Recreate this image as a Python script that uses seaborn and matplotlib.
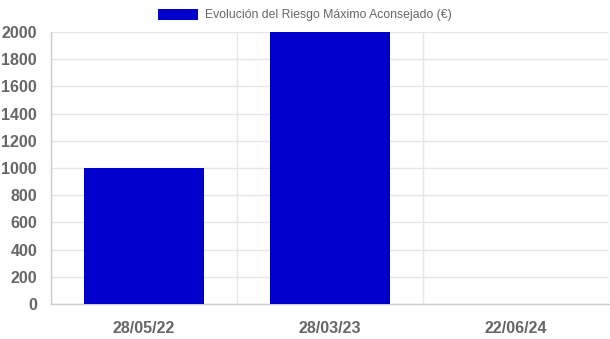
import matplotlib
matplotlib.use("Agg")
import matplotlib.pyplot as plt
import seaborn as sns
import pandas as pd
from matplotlib.patches import Patch

categories = ["28/05/22", "28/03/23", "22/06/24"]
values = [1000, 2000, 0]
series_name = "Evolución del Riesgo Máximo Aconsejado (€)"
y_ticks = list(range(0, 2001, 200))

sns.set_style("white")
plt.rcParams['font.family'] = ['Liberation Sans', 'DejaVu Sans']

df = pd.DataFrame({"fecha": categories, "valor": values})

fig = plt.figure(figsize=(6.1, 3.39), dpi=100)
W, H = 610, 339
ax = fig.add_axes([51 / W, (H - 304) / H, (609 - 51) / W, (304 - 32) / H])

bar_color = "#0000CD"
sns.barplot(data=df, x="fecha", y="valor", order=categories, color=bar_color,
            saturation=1, width=0.645, ax=ax, errorbar=None, zorder=3)
for p in ax.patches:
    p.set_linewidth(0)

grid_c = "#e6e6e6"
ax.set_xlim(-0.5, 2.5)
ax.set_ylim(0, 2000)
ax.set_yticks(y_ticks)
ax.set_yticklabels([str(v) for v in y_ticks])
ax.set_xticks(range(len(categories)))
ax.set_xticklabels(categories)
ax.set_xticks([-0.5, 0.5, 1.5, 2.5], minor=True)

ax.grid(False)
ax.yaxis.grid(True, color=grid_c, linewidth=1, zorder=0)
ax.xaxis.grid(True, which="minor", color=grid_c, linewidth=1, zorder=0)
ax.set_axisbelow(True)

ax.tick_params(axis="y", length=7, color=grid_c, width=1, pad=3,
               labelsize=11.5, labelcolor="#666666")
ax.tick_params(axis="x", which="major", length=0, pad=12,
               labelsize=11.5, labelcolor="#666666")
ax.tick_params(axis="x", which="minor", length=8, color=grid_c, width=1)
for lbl in ax.get_xticklabels() + ax.get_yticklabels():
    lbl.set_fontweight("bold")

ax.set_xlabel("")
ax.set_ylabel("")
for s in ["top", "right"]:
    ax.spines[s].set_visible(False)
ax.spines["left"].set_color("#cccccc")
ax.spines["bottom"].set_color("#cccccc")
ax.spines["left"].set_linewidth(1)
ax.spines["bottom"].set_linewidth(1)

handle = Patch(facecolor=bar_color, edgecolor="none", label=series_name)
fig.legend(handles=[handle], loc="center", bbox_to_anchor=(0.5, 1 - 15 / H),
           frameon=False, fontsize=8.8, handlelength=3.3, handleheight=1.0,
           handletextpad=0.6, labelcolor="#666666")

fig.savefig("out.png", dpi=100)
